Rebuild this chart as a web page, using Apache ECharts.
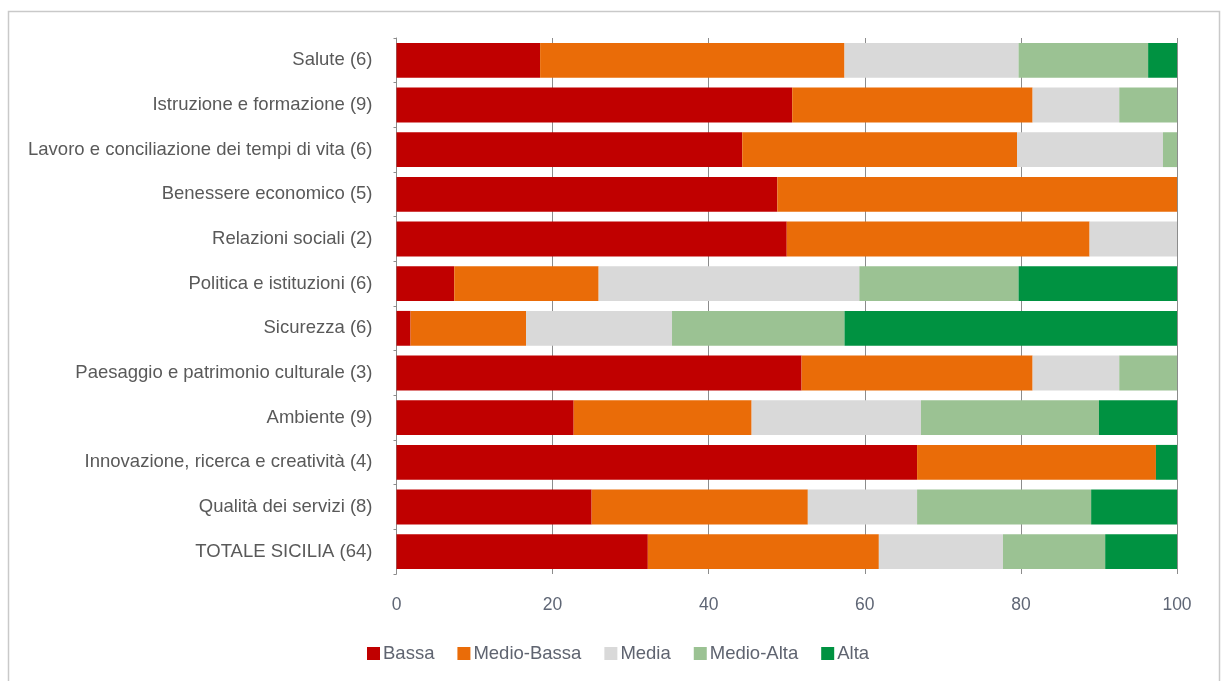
<!DOCTYPE html>
<html>
<head>
<meta charset="utf-8">
<title>Indicatori per dominio</title>
<script src="https://cdn.jsdelivr.net/npm/echarts@6/dist/echarts.min.js"></script>
<style>
  html, body { margin: 0; padding: 0; background: #fff; }
  #chart { width: 1227px; height: 681px; }
</style>
</head>
<body>
<div id="chart"></div>
<script>
// domini (dall'alto verso il basso)
var categories = [
  'Salute (6)',
  'Istruzione e formazione (9)',
  'Lavoro e conciliazione dei tempi di vita (6)',
  'Benessere economico (5)',
  'Relazioni sociali (2)',
  'Politica e istituzioni (6)',
  'Sicurezza (6)',
  'Paesaggio e patrimonio culturale (3)',
  'Ambiente (9)',
  'Innovazione, ricerca e creatività (4)',
  'Qualità dei servizi (8)',
  'TOTALE SICILIA (64)'
]
var seriesNames = ['Bassa', 'Medio-Bassa', 'Media', 'Medio-Alta', 'Alta']
// quote percentuali per classe
var bassa      = [18.4, 50.7, 44.3, 48.8, 50.0,  7.4,  1.8, 51.9, 22.7, 66.7, 25.0, 32.2]
var medioBassa = [39.0, 30.8, 35.2, 51.2, 38.8, 18.5, 14.8, 29.6, 22.8, 30.6, 27.7, 29.6]
var media      = [22.3, 11.1, 18.7,  0.0, 11.2, 33.4, 18.7, 11.1, 21.7,  0.0, 14.0, 15.9]
var medioAlta  = [16.6,  7.4,  1.8,  0.0,  0.0, 20.4, 22.1,  7.4, 22.8,  0.0, 22.3, 13.1]
var alta       = [ 3.7,  0.0,  0.0,  0.0,  0.0, 20.3, 42.6,  0.0, 10.0,  2.7, 11.0,  9.2]
var xTicks = [0, 20, 40, 60, 80, 100]

var colors = ['#C00000', '#EA6C08', '#D9D9D9', '#9BC293', '#009241']
var valueLists = [bassa, medioBassa, media, medioAlta, alta]

var chart = echarts.init(document.getElementById('chart'))

var series = seriesNames.map(function (name, i) {
  return {
    name: name,
    type: 'bar',
    stack: 'tot',
    barCategoryGap: '22%',
    itemStyle: { color: colors[i] },
    data: valueLists[i]
  }
})

chart.setOption({
  animation: false,
  textStyle: { fontFamily: 'Liberation Sans, Arial, sans-serif' },
  graphic: [{
    type: 'rect',
    shape: { x: 8.5, y: 11.5, width: 1211, height: 700 },
    style: { fill: 'none', stroke: '#c9c9c9', lineWidth: 1.5 },
    silent: true
  }],
  grid: {
    left: 396.5,
    right: 50,
    top: 38,
    bottom: 107
  },
  legend: {
    data: seriesNames,
    left: 362,
    top: 639,
    itemWidth: 13,
    itemHeight: 13,
    itemGap: 23,
    icon: 'rect',
    textStyle: { fontSize: 18.5, color: '#5f6470', padding: [0, 0, 0, -2] }
  },
  xAxis: {
    type: 'value',
    min: 0,
    max: 100,
    interval: 20,
    axisLine: { show: false },
    axisTick: { show: false },
    splitLine: { show: true, lineStyle: { color: '#8c8c8c', width: 1 } },
    axisLabel: {
      margin: 22,
      fontSize: 17.5,
      color: '#5f6675',
      formatter: function (v) { return xTicks.indexOf(v) >= 0 ? String(v) : '' }
    }
  },
  yAxis: {
    type: 'category',
    inverse: true,
    data: categories,
    axisLine: { show: true, lineStyle: { color: '#8c8c8c', width: 1 } },
    axisTick: { show: true, length: 3, lineStyle: { color: '#8c8c8c' } },
    axisLabel: {
      margin: 24,
      fontSize: 18.5,
      color: '#595959',
      padding: [7, 0, 0, 0]
    }
  },
  series: series
})
</script>
</body>
</html>
